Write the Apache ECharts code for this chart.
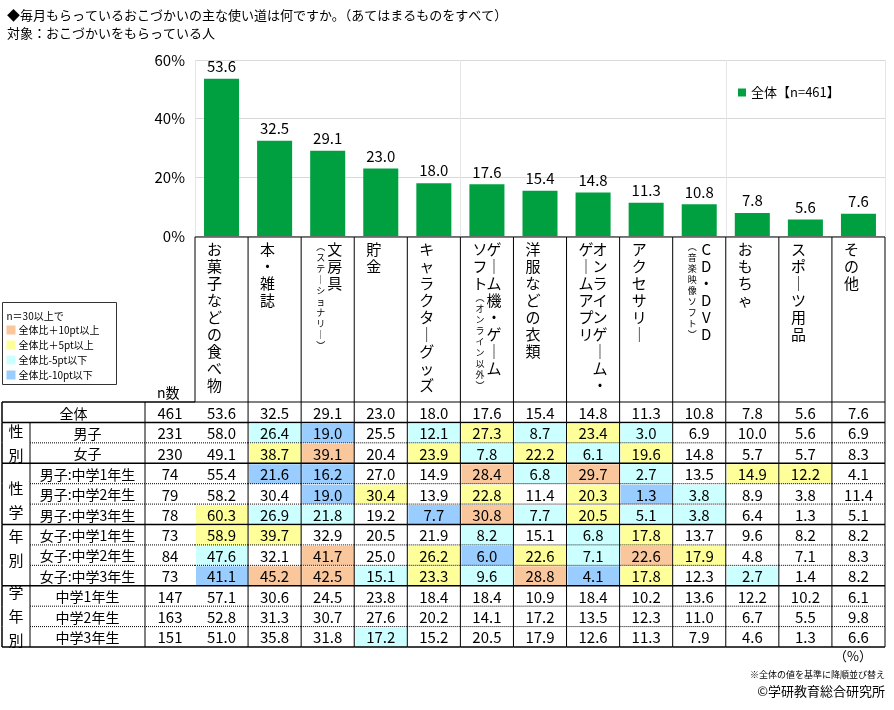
<!DOCTYPE html>
<html>
<head>
<meta charset="utf-8">
<script src="https://cdn.jsdelivr.net/npm/echarts@6/dist/echarts.min.js"></script>
<style>html,body{margin:0;padding:0;background:#fff}#main{width:894px;height:710px}</style>
</head>
<body>
<div id="main"></div>
<script>
var FONT = '"Noto Sans CJK JP", sans-serif';

// item categories (bar order) and how their heading is written vertically (right column first)
var categories = ['お菓子などの食べ物', '本・雑誌', '文房具', '貯金', 'キャラクターグッズ', 'ゲーム機・ゲームソフト',
  '洋服などの衣類', 'オンラインゲーム・ゲームアプリ', 'アクセサリー', 'CD・DVD', 'おもちゃ', 'スポーツ用品', 'その他'];
var headingColumns = [
  ['お菓子などの食べ物'], ['本・雑誌'], ['文房具', '（ステーショナリー）'], ['貯金'], ['キャラクターグッズ'],
  ['ゲーム機・ゲーム', 'ソフト（オンライン以外）'], ['洋服などの衣類'], ['オンラインゲーム・', 'ゲームアプリ'],
  ['アクセサリー'], ['CD・DVD', '（音楽映像ソフト）'], ['おもちゃ'], ['スポーツ用品'], ['その他']
];
var overall = [53.6, 32.5, 29.1, 23.0, 18.0, 17.6, 15.4, 14.8, 11.3, 10.8, 7.8, 5.6, 7.6];

var rowLabels = ['全体', '男子', '女子', '男子:中学1年生', '男子:中学2年生', '男子:中学3年生',
  '女子:中学1年生', '女子:中学2年生', '女子:中学3年生', '中学1年生', '中学2年生', '中学3年生'];
var rowN = [461, 231, 230, 74, 79, 78, 73, 84, 73, 147, 163, 151];
var tableValues = [
  [53.6, 32.5, 29.1, 23.0, 18.0, 17.6, 15.4, 14.8, 11.3, 10.8, 7.8, 5.6, 7.6],
  [58.0, 26.4, 19.0, 25.5, 12.1, 27.3, 8.7, 23.4, 3.0, 6.9, 10.0, 5.6, 6.9],
  [49.1, 38.7, 39.1, 20.4, 23.9, 7.8, 22.2, 6.1, 19.6, 14.8, 5.7, 5.7, 8.3],
  [55.4, 21.6, 16.2, 27.0, 14.9, 28.4, 6.8, 29.7, 2.7, 13.5, 14.9, 12.2, 4.1],
  [58.2, 30.4, 19.0, 30.4, 13.9, 22.8, 11.4, 20.3, 1.3, 3.8, 8.9, 3.8, 11.4],
  [60.3, 26.9, 21.8, 19.2, 7.7, 30.8, 7.7, 20.5, 5.1, 3.8, 6.4, 1.3, 5.1],
  [58.9, 39.7, 32.9, 20.5, 21.9, 8.2, 15.1, 6.8, 17.8, 13.7, 9.6, 8.2, 8.2],
  [47.6, 32.1, 41.7, 25.0, 26.2, 6.0, 22.6, 7.1, 22.6, 17.9, 4.8, 7.1, 8.3],
  [41.1, 45.2, 42.5, 15.1, 23.3, 9.6, 28.8, 4.1, 17.8, 12.3, 2.7, 1.4, 8.2],
  [57.1, 30.6, 24.5, 23.8, 18.4, 18.4, 10.9, 18.4, 10.2, 13.6, 12.2, 10.2, 6.1],
  [52.8, 31.3, 30.7, 27.6, 20.2, 14.1, 17.2, 13.5, 12.3, 11.0, 6.7, 5.5, 9.8],
  [51.0, 35.8, 31.8, 17.2, 15.2, 20.5, 17.9, 12.6, 11.3, 7.9, 4.6, 1.3, 6.6]
];
var groups = [
  { label: '性別', from: 1, to: 2 },
  { label: '性学年別', from: 3, to: 8 },
  { label: '学年別', from: 9, to: 11 }
];
var solidAfter = [0, 2, 5, 8, 11];
var legendItems = ['全体比＋10pt以上', '全体比＋5pt以上', '全体比-5pt以下', '全体比-10pt以下'];
var COLORS = ['#fac79c', '#ffff99', '#ccffff', '#99ccff'];

function cellColor(v, base) {
  var d = v - base;
  if (d >= 10) return COLORS[0];
  if (d >= 5) return COLORS[1];
  if (d <= -10) return COLORS[3];
  if (d <= -5) return COLORS[2];
  return null;
}

function vertical(ch) {
  return ch === 'ー' ? '｜' : ch === '（' ? '︵' : ch === '）' ? '︶' : ch;
}
function richColumn(str) {
  var out = [], small = false;
  for (var i = 0; i < str.length; i++) {
    var c = str[i];
    if (c === '（') small = true;
    out.push('{' + (small ? 's' : 'b') + '|' + vertical(c) + '}');
    if (c === '）') small = false;
  }
  return out.join('\n');
}

var tableData = [];
tableValues.forEach(function (row, r) {
  row.forEach(function (v, c) { tableData.push([c, r, v]); });
});

var chart = echarts.init(document.getElementById('main'));
var LINE = '#000';

chart.setOption({
  backgroundColor: '#fff',
  textStyle: { fontFamily: FONT },
  title: [
    { text: '◆毎月もらっているおこづかいの主な使い道は何ですか。（あてはまるものをすべて）', left: 2, top: 4,
      textStyle: { fontSize: 13, fontWeight: 'normal', color: '#000', fontFamily: FONT } },
    { text: '対象：おこづかいをもらっている人', left: 2, top: 22,
      textStyle: { fontSize: 13, fontWeight: 'normal', color: '#000', fontFamily: FONT } }
  ],
  legend: {
    data: ['全体【n=461】'], left: 732, top: 82, icon: 'rect', itemWidth: 8, itemHeight: 8, itemGap: 4,
    backgroundColor: '#fff', padding: [4, 6],
    textStyle: { fontSize: 13, color: '#000', fontFamily: FONT }
  },
  grid: [
    { left: 195, right: 9, top: 60, height: 176 },
    { left: 195, right: 9, top: 237, height: 165 },
    { left: 195, right: 9, top: 402, height: 245 }
  ],
  xAxis: [
    { type: 'category', gridIndex: 0, data: categories, axisLabel: { show: false }, axisTick: { show: false },
      axisLine: { lineStyle: { color: '#d9d9d9' } },
      splitLine: { show: true, lineStyle: { color: '#e6e6e6' } } },
    { type: 'category', gridIndex: 1, data: categories, show: false },
    { type: 'category', gridIndex: 2, data: categories, show: false }
  ],
  yAxis: [
    { type: 'value', gridIndex: 0, min: 0, max: 60, interval: 20,
      axisLabel: { formatter: '{value}%', fontSize: 15, color: '#000', margin: 10 },
      axisLine: { show: false }, axisTick: { show: false },
      splitLine: { lineStyle: { color: '#d9d9d9' } } },
    { type: 'value', gridIndex: 1, min: 0, max: 1, show: false },
    { type: 'category', gridIndex: 2, data: rowLabels, inverse: true, show: false }
  ],
  series: [
    {
      name: '全体【n=461】', type: 'bar', xAxisIndex: 0, yAxisIndex: 0, data: overall,
      barWidth: '66%', itemStyle: { color: '#00a040' },
      label: { show: true, position: 'top', fontSize: 15, color: '#000', formatter: function (p) { return p.value.toFixed(1); } }
    },
    {
      // vertical column headings
      type: 'custom', xAxisIndex: 1, yAxisIndex: 1, silent: true,
      data: categories.map(function (c, i) { return [i, 1]; }),
      renderItem: function (params, api) {
        var i = api.value(0);
        var p = api.coord([i, 1]);
        var w = api.size([1, 0])[0];
        var bottom = api.coord([i, 0])[1];
        var children = [
          { type: 'line', shape: { x1: p[0] + w / 2, y1: p[1], x2: p[0] + w / 2, y2: bottom }, style: { stroke: LINE, lineWidth: 1 } },
          { type: 'line', shape: { x1: p[0] - w / 2, y1: p[1], x2: p[0] + w / 2, y2: p[1] }, style: { stroke: LINE, lineWidth: 1 } }
        ];
        if (i === 0) children.push({ type: 'line', shape: { x1: p[0] - w / 2, y1: p[1], x2: p[0] - w / 2, y2: bottom }, style: { stroke: LINE, lineWidth: 1 } });
        var cols = headingColumns[i];
        cols.forEach(function (s, k) {
          children.push({
            type: 'text', x: p[0] - 7 + (cols.length - 1 - k) * 14, y: p[1] + 4,
            style: {
              text: richColumn(s), align: 'center', verticalAlign: 'top', fontFamily: FONT,
              rich: { b: { fontSize: 15, lineHeight: 17, align: 'center', fill: '#000', fontFamily: FONT },
                      s: { fontSize: 9, lineHeight: 11, align: 'center', fill: '#000', fontFamily: FONT } }
            }
          });
        });
        return { type: 'group', children: children };
      }
    },
    {
      // table cells
      type: 'custom', xAxisIndex: 2, yAxisIndex: 2, silent: true, data: tableData,
      renderItem: function (params, api) {
        var c = api.value(0), r = api.value(1), v = api.value(2);
        var p = api.coord([c, r]);
        var sz = api.size([1, 1]);
        var x0 = p[0] - sz[0] / 2, x1 = p[0] + sz[0] / 2, y0 = p[1] - sz[1] / 2, y1 = p[1] + sz[1] / 2;
        var fill = r === 0 ? null : cellColor(v, overall[c]);
        var solid = solidAfter.indexOf(r) >= 0;
        var children = [];
        if (fill) children.push({ type: 'rect', shape: { x: x0 + 1, y: y0 + 1, width: sz[0] - 1, height: sz[1] - 1 }, style: { fill: fill } });
        children.push({ type: 'text', x: p[0], y: p[1] + 1, style: { text: v.toFixed(1), align: 'center', verticalAlign: 'middle', fontSize: 15, fill: '#000', fontFamily: FONT } });
        children.push({ type: 'line', shape: { x1: x1, y1: y0, x2: x1, y2: y1 }, style: { stroke: LINE, lineWidth: 1 } });
        children.push({ type: 'line', shape: { x1: x0, y1: y1, x2: x1, y2: y1 }, style: { stroke: LINE, lineWidth: solid ? 1.5 : 1, lineDash: solid ? null : [1, 1] } });
        if (r === 0) children.push({ type: 'line', shape: { x1: x0, y1: y0, x2: x1, y2: y0 }, style: { stroke: LINE, lineWidth: 1 } });
        return { type: 'group', children: children };
      }
    },
    {
      // left part of the table: group, row label, n
      type: 'custom', xAxisIndex: 2, yAxisIndex: 2, silent: true,
      data: rowLabels.map(function (l, r) { return [0, r]; }),
      renderItem: function (params, api) {
        var r = api.value(1);
        var p = api.coord([0, r]);
        var h = api.size([1, 1])[1];
        var y0 = p[1] - h / 2, y1 = p[1] + h / 2;
        var X0 = 2, XG = 30, XN = 145, XE = p[0] - api.size([1, 1])[0] / 2;
        var solid = solidAfter.indexOf(r) >= 0;
        var labelX = r === 0 ? (X0 + XN) / 2 : (XG + XN) / 2;
        var children = [
          { type: 'text', x: labelX, y: p[1] + 1, style: { text: rowLabels[r], align: 'center', verticalAlign: 'middle', fontSize: 14, fill: '#000', fontFamily: FONT } },
          { type: 'text', x: (XN + XE) / 2, y: p[1] + 1, style: { text: String(rowN[r]), align: 'center', verticalAlign: 'middle', fontSize: 15, fill: '#000', fontFamily: FONT } },
          { type: 'line', shape: { x1: X0, y1: y0, x2: X0, y2: y1 }, style: { stroke: LINE, lineWidth: 1.5 } },
          { type: 'line', shape: { x1: XN, y1: y0, x2: XN, y2: y1 }, style: { stroke: LINE, lineWidth: 1 } },
          { type: 'line', shape: { x1: solid ? X0 : XG, y1: y1, x2: XE, y2: y1 }, style: { stroke: LINE, lineWidth: solid ? 1.5 : 1, lineDash: solid ? null : [1, 1] } }
        ];
        if (r > 0) children.push({ type: 'line', shape: { x1: XG, y1: y0, x2: XG, y2: y1 }, style: { stroke: LINE, lineWidth: 1 } });
        if (r === 0) children.push({ type: 'line', shape: { x1: X0, y1: y0, x2: XE, y2: y0 }, style: { stroke: LINE, lineWidth: 1.5 } });
        groups.forEach(function (g) {
          if (g.from !== r) return;
          var ya = api.coord([0, g.from])[1], yb = api.coord([0, g.to])[1];
          children.push({ type: 'text', x: (X0 + XG) / 2, y: (ya + yb) / 2, style: {
            text: g.label.split('').join('\n'), align: 'center', verticalAlign: 'middle', fontSize: 15, lineHeight: 24, fill: '#000', fontFamily: FONT } });
        });
        return { type: 'group', children: children };
      }
    }
  ],
  graphic: [
    { type: 'text', left: 157, top: 386, style: { text: 'n数', fontSize: 14, fill: '#000', fontFamily: FONT } },
    { type: 'group', left: 2, top: 302, children: [
      { type: 'rect', shape: { x: 0, y: 0, width: 114, height: 82 }, style: { fill: '#fff', stroke: '#333', lineWidth: 1 } },
      { type: 'text', x: 4, y: 14, style: { text: 'n＝30以上で', fontSize: 10, fill: '#000', verticalAlign: 'middle', fontFamily: FONT } }
    ].concat(legendItems.reduce(function (acc, t, i) {
      acc.push({ type: 'rect', shape: { x: 4, y: 23 + i * 15, width: 9, height: 9 }, style: { fill: COLORS[i] } });
      acc.push({ type: 'text', x: 16, y: 28 + i * 15, style: { text: t, fontSize: 10, fill: '#000', verticalAlign: 'middle', fontFamily: FONT } });
      return acc;
    }, [])) },
    { type: 'text', right: 22, top: 650, style: { text: '（%）', fontSize: 13, fill: '#000', fontFamily: FONT } },
    { type: 'text', right: 9, top: 670, style: { text: '※全体の値を基準に降順並び替え', fontSize: 9, fill: '#000', fontFamily: FONT } },
    { type: 'text', right: 9, top: 685, style: { text: '©学研教育総合研究所', fontSize: 13, fill: '#000', fontFamily: FONT } }
  ]
});
</script>
</body>
</html>
